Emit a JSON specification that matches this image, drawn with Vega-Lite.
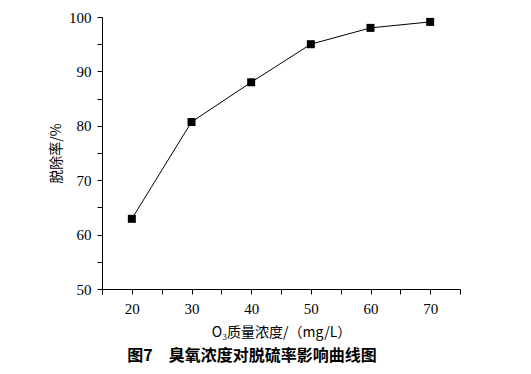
{
  "$schema": "https://vega.github.io/schema/vega-lite/v6.json",
  "width": 358,
  "height": 272,
  "autosize": {"type": "none"},
  "padding": {"left": 102, "top": 17, "right": 71, "bottom": 85},
  "background": "white",
  "config": {"view": {"stroke": null}},
  "title": {
    "text": "图7　臭氧浓度对脱硫率影响曲线图",
    "orient": "bottom",
    "anchor": "middle",
    "dx": -29,
    "offset": 9,
    "font": "Noto Sans CJK SC",
    "fontWeight": "bold",
    "fontSize": 16,
    "color": "#000000"
  },
  "data": {
    "values": [
      {"c": 20, "r": 62.9},
      {"c": 30, "r": 80.7},
      {"c": 40, "r": 88.0},
      {"c": 50, "r": 95.0},
      {"c": 60, "r": 98.0},
      {"c": 70, "r": 99.1}
    ]
  },
  "encoding": {
    "x": {
      "field": "c",
      "type": "quantitative",
      "scale": {"domain": [15, 75], "nice": false, "zero": false},
      "axis": {
        "title": "O₃质量浓度/（mg/L）",
        "values": [15, 20, 25, 30, 35, 40, 45, 50, 55, 60, 65, 70, 75],
        "labelExpr": "datum.value % 10 === 0 ? datum.label : ''",
        "grid": false,
        "domainColor": "#000000",
        "tickColor": "#000000",
        "tickSize": 5,
        "labelPadding": 7,
        "labelFont": "Liberation Serif",
        "labelFontSize": 15,
        "labelColor": "#000000",
        "titleFont": "Noto Sans CJK SC",
        "titleFontSize": 14,
        "titleFontWeight": "normal",
        "titleColor": "#000000",
        "titlePadding": 9
      }
    },
    "y": {
      "field": "r",
      "type": "quantitative",
      "scale": {"domain": [50, 100], "nice": false, "zero": false},
      "axis": {
        "title": "脱除率/%",
        "values": [50, 55, 60, 65, 70, 75, 80, 85, 90, 95, 100],
        "labelExpr": "datum.value % 10 === 0 ? datum.label : ''",
        "grid": false,
        "domainColor": "#000000",
        "tickColor": "#000000",
        "tickSize": 5,
        "labelPadding": 6,
        "labelFont": "Liberation Serif",
        "labelFontSize": 15,
        "labelColor": "#000000",
        "titleFont": "Noto Sans CJK SC",
        "titleFontSize": 14,
        "titleFontWeight": "normal",
        "titleColor": "#000000",
        "titlePadding": 5
      }
    }
  },
  "layer": [
    {"mark": {"type": "line", "color": "#000000", "strokeWidth": 1}},
    {"mark": {"type": "point", "shape": "square", "filled": true, "color": "#000000", "opacity": 1, "size": 64}}
  ]
}
